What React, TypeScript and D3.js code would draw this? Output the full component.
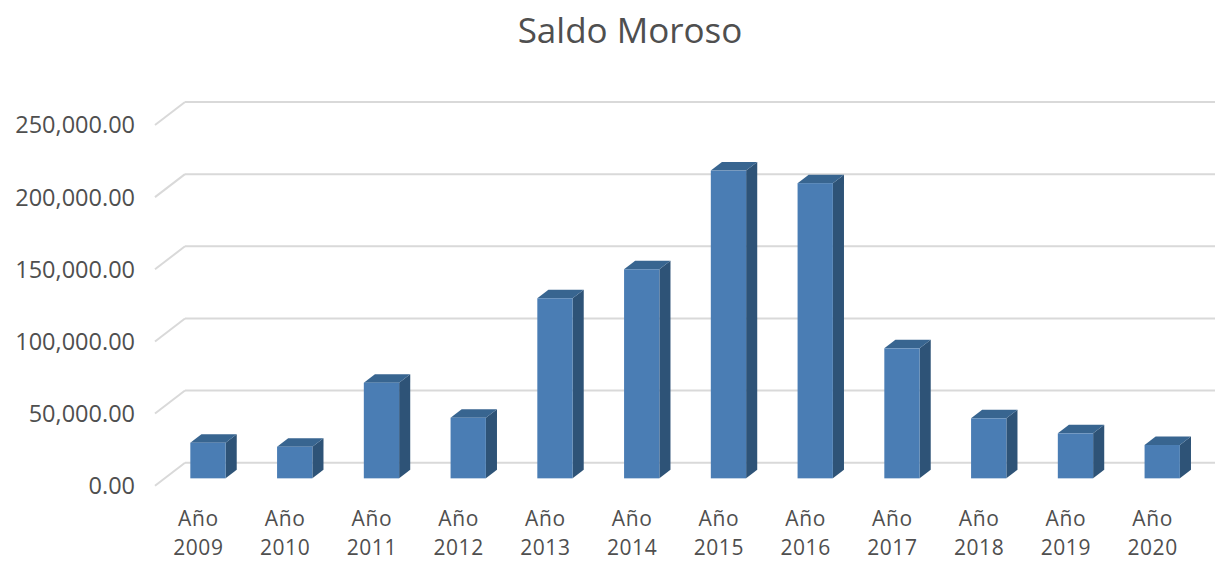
import React from "react";
import * as d3 from "d3";

const categories = ["2009", "2010", "2011", "2012", "2013", "2014", "2015", "2016", "2017", "2018", "2019", "2020"];
const values = [24700, 21900, 66300, 42000, 124800, 144900, 213300, 204600, 90100, 41600, 31200, 23100];
const yTicks = [0, 50000, 100000, 150000, 200000, 250000];
const title = "Saldo Moroso";

const W = 1215;
const H = 561;
const FONT = "'Open Sans', 'Liberation Sans', sans-serif";
const TEXT = "#4f4f4f";

export default function App() {
  const x = d3.scaleBand<string>().domain(categories).range([155, 1196]).paddingInner(0).paddingOuter(0);
  const y = d3.scaleLinear().domain([0, 250000]).range([485.7, 125]);
  const depthX = 30;
  const depthY = -23;
  const barFrontF = 0.32;
  const barBackF = 0.69;
  const barFrac = 0.407;
  const fmt = d3.format(",.2f");

  const bw = x.bandwidth() * barFrac;

  return (
    <svg width={W} height={H} style={{ position: "absolute", left: 0, top: 0, background: "#fff" }}>
      <text x={630} y={43} textAnchor="middle" fontFamily={FONT} fontSize={35} fill={TEXT}>
        {title}
      </text>
      {yTicks.map((t) => {
        const yf = y(t);
        return (
          <g key={t}>
            <line x1={155} y1={yf} x2={155 + depthX} y2={yf + depthY} stroke="#d9d9d9" strokeWidth={2} />
            <line x1={155 + depthX} y1={yf + depthY} x2={1196 + depthX} y2={yf + depthY} stroke="#d9d9d9" strokeWidth={2} />
            <text x={135} y={yf} dy="0.36em" textAnchor="end" fontFamily={FONT} fontSize={23.5} fill={TEXT}>
              {fmt(t)}
            </text>
          </g>
        );
      })}
      {categories.map((c, i) => {
        const v = values[i];
        const x0 = (x(c) as number) + (x.bandwidth() - bw) / 2 + depthX * barFrontF;
        const yb = y(0) + depthY * barFrontF;
        const yt = y(v) + depthY * barFrontF;
        const ddx = depthX * (barBackF - barFrontF);
        const ddy = depthY * (barBackF - barFrontF);
        const x1 = x0 + bw;
        return (
          <g key={c}>
            <polygon
              points={`${x1},${yt} ${x1 + ddx},${yt + ddy} ${x1 + ddx},${yb + ddy} ${x1},${yb}`}
              fill="#2e5377"
            />
            <polygon
              points={`${x0},${yt} ${x0 + ddx},${yt + ddy} ${x1 + ddx},${yt + ddy} ${x1},${yt}`}
              fill="#386590"
            />
            <rect x={x0} y={yt} width={bw} height={yb - yt} fill="#4a7db4" />
          </g>
        );
      })}
      {categories.map((c) => {
        const cx = (x(c) as number) + x.bandwidth() / 2;
        return (
          <text key={c} x={cx} textAnchor="middle" fontFamily={FONT} fontSize={21} letterSpacing={0.6} fill={TEXT}>
            <tspan x={cx} y={525.5}>Año</tspan>
            <tspan x={cx} y={555}>{c}</tspan>
          </text>
        );
      })}
    </svg>
  );
}
